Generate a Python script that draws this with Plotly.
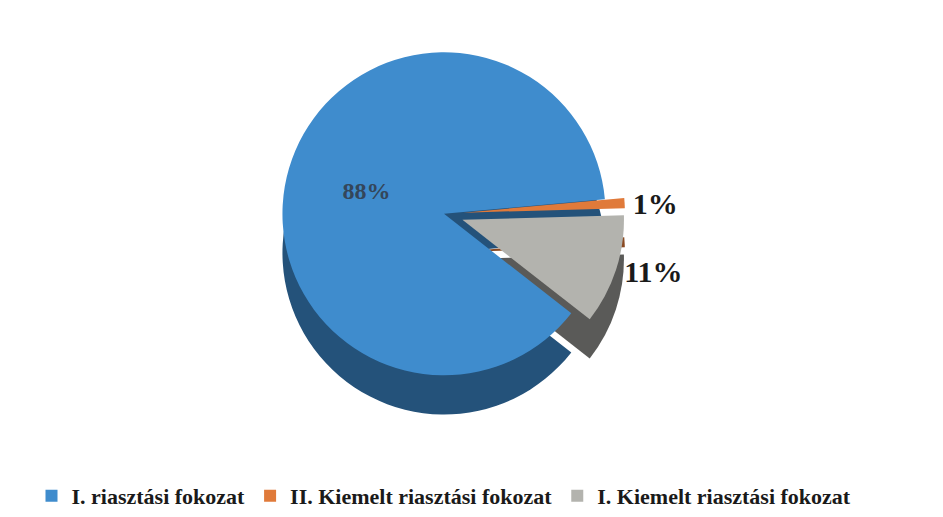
import plotly.graph_objects as go

categories = ["I. riasztási fokozat", "II. Kiemelt riasztási fokozat", "I. Kiemelt riasztási fokozat"]
values = [88, 1, 11]
colors = ["#3f8ccd", "#e07a3a", "#b3b3ae"]
side_colors = ["#24527a", "#8a4a22", "#5a5a58"]
pulls = [0, 0.12, 0.12]

rot = 128
dom = dict(x=[0.16, 0.84], y=[0.25, 0.99])
shadow_dom = dict(x=[0.16, 0.84], y=[0.17, 0.91])

fig = go.Figure()
fig.add_trace(go.Pie(
    labels=categories, values=values, sort=False, direction="clockwise",
    rotation=rot, pull=pulls, domain=shadow_dom,
    marker=dict(colors=side_colors, line=dict(width=0)),
    textinfo="none", hoverinfo="skip", showlegend=False,
))
fig.add_trace(go.Pie(
    labels=categories, values=values, sort=False, direction="clockwise",
    rotation=rot, pull=pulls, domain=dom,
    marker=dict(colors=colors, line=dict(width=0)),
    texttemplate="%{percent:.0%}",
    textposition=["inside", "outside", "outside"],
    insidetextorientation="horizontal",
    insidetextfont=dict(family="Liberation Serif", size=24, color="#34465a", weight="bold"),
    outsidetextfont=dict(family="Liberation Serif", size=30, color="#1a1a1a", weight="bold"),
    showlegend=True,
))
fig.update_layout(
    width=943, height=517,
    margin=dict(l=5, r=5, t=10, b=8),
    paper_bgcolor="white", plot_bgcolor="white",
    font=dict(family="Liberation Serif", color="#1a1a1a"),
    legend=dict(orientation="h", x=0.5, xanchor="center", y=0.0, yanchor="bottom",
                font=dict(family="Liberation Serif", size=22, color="#1a1a1a", weight="bold"),
                itemwidth=30, traceorder="normal"),
)
fig.write_html("out.html")
